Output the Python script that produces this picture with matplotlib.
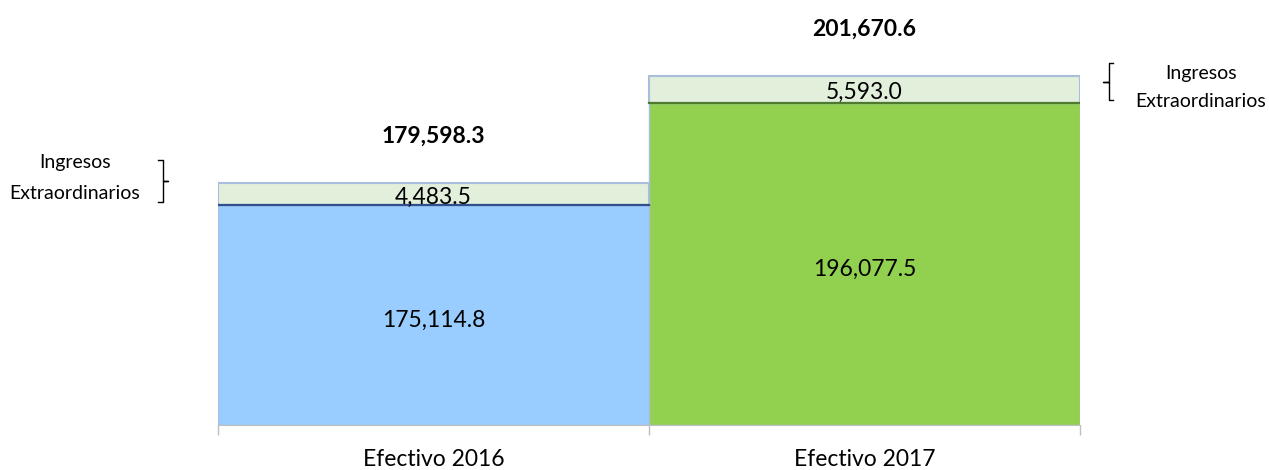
import numpy as np
from matplotlib import pyplot as plt
from matplotlib.lines import Line2D

categories = ['Efectivo 2016', 'Efectivo 2017']
base_values = [175114.8, 196077.5]
extra_values = [4483.5, 5593.0]
total_values = [179598.3, 201670.6]

base_colors = ['#99CCFF', '#92D050']
sep_colors = ['#2F4F8F', '#4E7A2E']
extra_color = '#E2EFDA'
edge_color = '#A9BEDD'

plt.rcParams['font.family'] = ['Lato', 'DejaVu Sans']

W, H = 1269, 470
fig = plt.figure(figsize=(W / 100, H / 100), dpi=100)
ax = fig.add_axes([218 / W, 45 / H, 862 / W, 425 / H])

ymin = 130000
ax.set_ylim(ymin, ymin + 425 * 205.2)
ax.set_xlim(-0.5, 1.5)

x = np.arange(len(categories))
ax.bar(x, np.array(base_values) - ymin, bottom=ymin, width=1.0,
	   color=base_colors, edgecolor=edge_color, linewidth=1)
ax.bar(x, extra_values, bottom=base_values, width=1.0,
	   color=extra_color, edgecolor=edge_color, linewidth=1.5)

for i in x:
	# dark line between base and extraordinary part
	ax.plot([i - 0.5, i + 0.5], [base_values[i], base_values[i]],
			color=sep_colors[i], linewidth=1.6)
	ax.text(i, (base_values[i] + ymin) / 2 - 600, f'{base_values[i]:,.1f}',
			ha='center', va='center_baseline', fontsize=16.5)
	ax.text(i, base_values[i] + extra_values[i] / 2 - 150, f'{extra_values[i]:,.1f}',
			ha='center', va='center_baseline', fontsize=16.5)
	ax.annotate(f'{total_values[i]:,.1f}', (i, total_values[i]),
				xytext=(0, 35), textcoords='offset points',
				ha='center', va='center_baseline', fontsize=16.5, fontweight='bold')

for s in ['top', 'right', 'left']:
	ax.spines[s].set_visible(False)
ax.spines['bottom'].set_color('#BFBFBF')
ax.set_yticks([])
ax.set_xticks(x)
ax.set_xticklabels(categories, fontsize=16.5)
ax.tick_params(axis='x', length=0, pad=17)
ax.set_xticks([-0.5, 0.5, 1.5], minor=True)
ax.tick_params(axis='x', which='minor', length=7, color='#BFBFBF', width=1)


def px(xp, yp):
	return xp / W, 1 - yp / H


def bracket(xv, y0, y1, hook, tip):
	ym = (y0 + y1) / 2
	pts = [(xv + hook, y0), (xv, y0), (xv, ym), (xv + tip, ym), (xv, ym), (xv, y1), (xv + hook, y1)]
	xs, ys = zip(*[px(a, b) for a, b in pts])
	fig.add_artist(Line2D(xs, ys, color='black', linewidth=1, transform=fig.transFigure))


bracket(163, 160, 202, -5, 5)
bracket(1109, 63, 100, 4, -6)

for (cx, y1, y2) in [(75, 168, 199), (1201, 79, 107)]:
	fig.text(*px(cx, y1), 'Ingresos', ha='center', va='baseline', fontsize=14)
	fig.text(*px(cx, y2), 'Extraordinarios', ha='center', va='baseline', fontsize=14)

fig.savefig('out.png', dpi=100)
